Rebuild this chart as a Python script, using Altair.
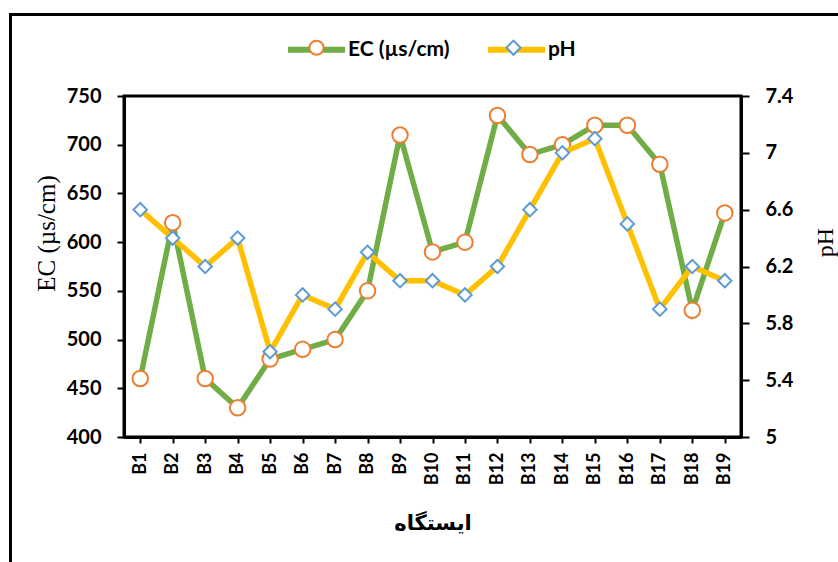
import altair as alt
import pandas as pd

# Sampling stations and measured values
stations = ["B1", "B2", "B3", "B4", "B5", "B6", "B7", "B8", "B9", "B10",
            "B11", "B12", "B13", "B14", "B15", "B16", "B17", "B18", "B19"]
ec_values = [460, 620, 460, 430, 480, 490, 500, 550, 710, 590,
             600, 730, 690, 700, 720, 720, 680, 530, 630]
ph_values = [6.6, 6.4, 6.2, 6.4, 5.6, 6.0, 5.9, 6.3, 6.1, 6.1,
             6.0, 6.2, 6.6, 7.0, 7.1, 6.5, 5.9, 6.2, 6.1]

EC_NAME = "EC (µs/cm)"
PH_NAME = "pH"
line_colors = ["#70AD47", "#FFC000"]
marker_colors = ["#ED7D31", "#5B9BD5"]
marker_shapes = ["circle", "diamond"]

rows = []
for st, e, p in zip(stations, ec_values, ph_values):
    rows.append({"station": st, "series": EC_NAME, "marker": EC_NAME, "value": e})
    rows.append({"station": st, "series": PH_NAME, "marker": PH_NAME, "value": p})
df = pd.DataFrame(rows)

W, H = 617, 341
LABEL_FONT = "Lato"
TITLE_FONT = "Liberation Serif"

x_enc = alt.X(
    "station:N",
    sort=stations,
    scale=alt.Scale(type="point", padding=0.5),
    axis=alt.Axis(
        title="ایستگاه",
        titleFont="DejaVu Sans",
        titleFontWeight="bold",
        titleFontSize=21,
        titleY=86,
        titleBaseline="middle",
        labelAngle=-90,
        labelFont=LABEL_FONT,
        labelFontWeight="bold",
        labelFontSize=18,
        labelPadding=9,
        tickSize=6,
    ),
)

# Two stacked legends: the line swatch with its label, and the bare marker on top of it
line_legend = alt.Legend(
    orient="none", legendX=161, legendY=-78, direction="horizontal",
    title=None, symbolType="stroke", symbolSize=3249, symbolStrokeWidth=6,
    labelFont=LABEL_FONT, labelFontWeight="bold", labelFontSize=21,
    labelColor="black", labelOffset=0, columnPadding=26, padding=0,
)
marker_legend = alt.Legend(
    orient="none", legendX=184, legendY=-57, direction="horizontal",
    title=None, symbolSize=200, symbolStrokeWidth=2, symbolFillColor="white",
    labelExpr="''", labelOffset=0, columnPadding=174, padding=0,
)

color_enc = alt.Color(
    "series:N",
    scale=alt.Scale(range=line_colors),
    legend=line_legend,
)
stroke_enc = alt.Stroke(
    "marker:N",
    scale=alt.Scale(range=marker_colors),
    legend=marker_legend,
)
shape_enc = alt.Shape(
    "marker:N",
    scale=alt.Scale(range=marker_shapes),
    legend=marker_legend,
)

base = alt.Chart(df)

ec_y = alt.Y(
    "value:Q",
    scale=alt.Scale(domain=[400, 750], nice=False, zero=False),
    axis=alt.Axis(
        orient="left",
        values=[400, 450, 500, 550, 600, 650, 700, 750],
        title=EC_NAME,
        titleFont=TITLE_FONT,
        titleFontWeight="normal",
        titleFontSize=25,
        titleAngle=270,
        titleX=-78,
        titleY=137,
        titleAlign="center",
        titleBaseline="middle",
        labelFont=LABEL_FONT,
        labelFontWeight="bold",
        labelFontSize=20,
        labelPadding=16,
        tickSize=7,
        grid=False,
    ),
)
ph_y = alt.Y(
    "value:Q",
    scale=alt.Scale(domain=[5, 7.4], nice=False, zero=False),
    axis=alt.Axis(
        orient="right",
        values=[5, 5.4, 5.8, 6.2, 6.6, 7, 7.4],
        format=".1~f",
        title=PH_NAME,
        titleFont=TITLE_FONT,
        titleFontWeight="normal",
        titleFontSize=24,
        titleAngle=270,
        titleX=84,
        titleY=146,
        titleAlign="center",
        titleBaseline="middle",
        labelFont=LABEL_FONT,
        labelFontWeight="bold",
        labelFontSize=20,
        labelPadding=16,
        tickSize=8,
        grid=False,
    ),
)

ec_line = base.transform_filter(alt.datum.series == EC_NAME).mark_line(
    strokeWidth=5.5
).encode(x=x_enc, y=ec_y, color=color_enc)
ec_points = base.transform_filter(alt.datum.series == EC_NAME).mark_point(
    filled=False, fill="white", fillOpacity=1, opacity=1, size=240, strokeWidth=2
).encode(x=x_enc, y=ec_y, stroke=stroke_enc, shape=shape_enc)

ph_line = base.transform_filter(alt.datum.series == PH_NAME).mark_line(
    strokeWidth=5.5
).encode(x=x_enc, y=ph_y, color=color_enc)
ph_points = base.transform_filter(alt.datum.series == PH_NAME).mark_point(
    filled=False, fill="white", fillOpacity=1, opacity=1, size=180, strokeWidth=2
).encode(x=x_enc, y=ph_y, stroke=stroke_enc, shape=shape_enc)

# Outer frame around the whole figure
frame = alt.Chart(alt.Data(values=[{"frame": 1}])).mark_rect(
    fill="transparent", stroke="black", strokeWidth=3
).encode(
    x=alt.value(-113.5), x2=alt.value(740), y=alt.value(-81.5), y2=alt.value(520)
)

chart = alt.layer(
    alt.layer(ec_line, ec_points),
    alt.layer(ph_line, ph_points),
    frame,
).resolve_scale(
    y="independent"
).properties(
    width=W,
    height=H,
    padding={"left": 124, "top": 96, "right": 838 - 124 - W, "bottom": 562 - 96 - H},
    autosize=alt.AutoSizeParams(type="none"),
    background="white",
).configure_view(
    stroke="black", strokeWidth=3
).configure_axis(
    domainColor="black", domainWidth=3, tickColor="black", tickWidth=2,
    labelColor="black", titleColor="black",
)

chart.save("out.html", embed_options={"renderer": "svg", "actions": False})
